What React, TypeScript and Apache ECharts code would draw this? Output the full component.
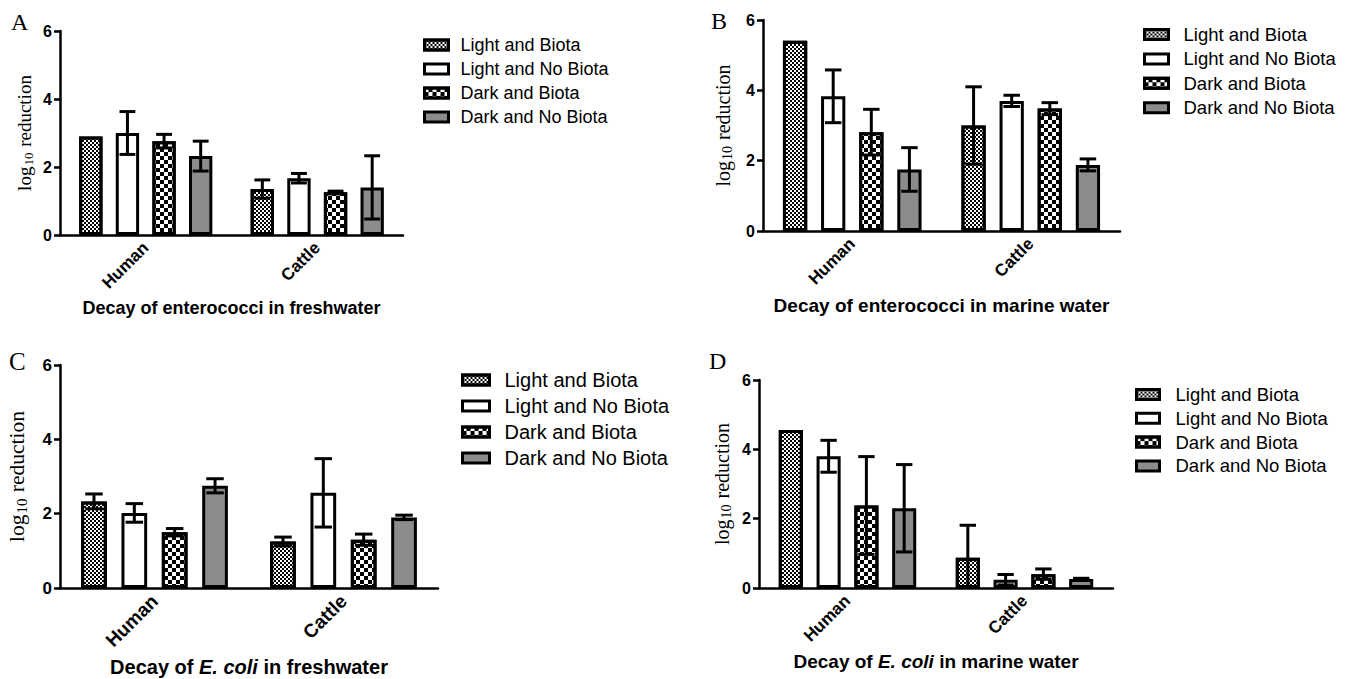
import React, { useEffect, useRef } from 'react';
import * as echarts from 'echarts';

const categories = ['Human', 'Cattle'];
const groupNames = ['Light and Biota', 'Light and No Biota', 'Dark and Biota', 'Dark and No Biota'];

// [series][category] : Human, Cattle
const enteroFreshMean = [[2.9, 1.35], [3.0, 1.67], [2.76, 1.26], [2.32, 1.4]];
const enteroFreshErr = [[0, 0.27], [0.63, 0.14], [0.2, 0.03], [0.44, 0.93]];

const enteroMarineMean = [[5.41, 3.0], [3.83, 3.7], [2.81, 3.48], [1.75, 1.88]];
const enteroMarineErr = [[0, 1.1], [0.75, 0.16], [0.65, 0.17], [0.62, 0.17]];

const ecoliFreshMean = [[2.33, 1.25], [2.02, 2.56], [1.5, 1.3], [2.75, 1.9]];
const ecoliFreshErr = [[0.2, 0.12], [0.25, 0.92], [0.1, 0.15], [0.19, 0.06]];

const ecoliMarineMean = [[4.56, 0.87], [3.8, 0.24], [2.38, 0.4], [2.3, 0.26]];
const ecoliMarineErr = [[0, 0.94], [0.46, 0.15], [1.41, 0.15], [1.26, 0.02]];

const BAR_W = 0.136;
const BAR_GAP = 0.57;

const SANS = '"Liberation Sans", Arial, sans-serif';
const SERIF = '"Liberation Serif", "Times New Roman", serif';

const fineDecal = {
  symbol: 'rect',
  symbolSize: 1,
  color: '#000',
  backgroundColor: '#fff',
  dashArrayX: [[2, 2], [0, 2, 2, 0]],
  dashArrayY: [2, 0],
};
const coarseDecal = {
  symbol: 'rect',
  symbolSize: 1,
  color: '#000',
  backgroundColor: '#fff',
  dashArrayX: [[4, 4], [0, 4, 4, 0]],
  dashArrayY: [4, 0],
};

const seriesStyles: any[] = [
  { color: '#fff', decal: fineDecal },
  { color: '#fff' },
  { color: '#fff', decal: coarseDecal },
  { color: '#8c8c8c' },
];

const panels = [
  {
    letter: 'A', mean: enteroFreshMean, err: enteroFreshErr,
    title: '{b|Decay of enterococci in freshwater}',
    grid: { left: 60, top: 31, width: 343, height: 204 },
    letterPos: [11, 22, 24],
    titleSize: 18, nameGap: 64, yNameSize: 19, yNameGap: 25, catSize: 17, tickSize: 16,
    legend: { left: 418, top: 31, gap: 6, font: 18, pad: 7, iw: 24, ih: 10 },
  },
  {
    letter: 'B', mean: enteroMarineMean, err: enteroMarineErr,
    title: '{b|Decay of enterococci in marine water}',
    grid: { left: 763, top: 20, width: 357, height: 211 },
    letterPos: [711, 21, 24],
    titleSize: 19, nameGap: 65, yNameSize: 20, yNameGap: 29, catSize: 17, tickSize: 16,
    legend: { left: 1138, top: 20, gap: 5.4, font: 18.5, pad: 10, iw: 24, ih: 10 },
  },
  {
    letter: 'C', mean: ecoliFreshMean, err: ecoliFreshErr,
    title: '{b|Decay of }{i|E. coli}{b| in freshwater}',
    grid: { left: 60, top: 365, width: 378, height: 223 },
    letterPos: [9, 361, 25],
    titleSize: 20, nameGap: 69, yNameSize: 21.5, yNameGap: 31, catSize: 19, tickSize: 17,
    legend: { left: 456, top: 365, gap: 6, font: 20, pad: 10, iw: 27, ih: 10 },
  },
  {
    letter: 'D', mean: ecoliMarineMean, err: ecoliMarineErr,
    title: '{b|Decay of }{i|E. coli}{b| in marine water}',
    grid: { left: 759, top: 380, width: 354, height: 208 },
    letterPos: [709, 361, 24],
    titleSize: 19, nameGap: 64, yNameSize: 20, yNameGap: 26, catSize: 17, tickSize: 16,
    legend: { left: 1130, top: 380, gap: 4.8, font: 18.5, pad: 11, iw: 23, ih: 10 },
  },
];

function buildOption() {
  const grid: any[] = [];
  const xAxis: any[] = [];
  const yAxis: any[] = [];
  const series: any[] = [];
  const legend: any[] = [];
  const graphic: any[] = [];

  panels.forEach((p, pi) => {
    grid.push({ ...p.grid, containLabel: false });
    xAxis.push({
      type: 'category',
      gridIndex: pi,
      data: categories,
      axisLine: { lineStyle: { color: '#000', width: 2.5 } },
      axisTick: { alignWithLabel: true, length: 6, lineStyle: { color: '#000', width: 2.5 } },
      axisLabel: {
        rotate: 45, margin: 10, color: '#000', fontWeight: 'bold',
        fontFamily: SANS, fontSize: p.catSize,
      },
      name: p.title,
      nameLocation: 'middle',
      nameGap: p.nameGap,
      nameTextStyle: {
        color: '#000',
        rich: {
          b: { fontFamily: SANS, fontWeight: 'bold', fontSize: p.titleSize, color: '#000' },
          i: { fontFamily: SANS, fontWeight: 'bold', fontStyle: 'italic', fontSize: p.titleSize, color: '#000' },
        },
      },
    });
    yAxis.push({
      type: 'value',
      gridIndex: pi,
      min: 0,
      max: 6,
      interval: 2,
      splitLine: { show: false },
      axisLine: { show: true, lineStyle: { color: '#000', width: 2.5 } },
      axisTick: { show: true, length: 6, lineStyle: { color: '#000', width: 2.5 } },
      axisLabel: {
        color: '#000', fontWeight: 'bold', fontFamily: SANS, fontSize: p.tickSize, margin: 8,
      },
      name: '{a|log}{s|10}{a| reduction}',
      nameLocation: 'middle',
      nameGap: p.yNameGap,
      nameTextStyle: {
        color: '#000',
        rich: {
          a: { fontFamily: SERIF, fontSize: p.yNameSize, color: '#000' },
          s: {
            fontFamily: SERIF, fontSize: Math.round(p.yNameSize * 0.68), color: '#000',
            verticalAlign: 'bottom', padding: [Math.round(p.yNameSize * 0.45), 1, 0, 1],
          },
        },
      },
    });

    groupNames.forEach((name, si) => {
      series.push({
        type: 'bar',
        name,
        xAxisIndex: pi,
        yAxisIndex: pi,
        data: p.mean[si],
        barWidth: (BAR_W * 100).toFixed(1) + '%',
        barGap: (BAR_GAP * 100).toFixed(0) + '%',
        itemStyle: {
          ...seriesStyles[si],
          borderColor: '#000',
          borderWidth: 3,
        },
        z: 2,
      });
    });

    groupNames.forEach((name, si) => {
      const data = categories.map((c, ci) => [ci, p.mean[si][ci], p.err[si][ci]]);
      series.push({
        type: 'custom',
        name: 'err-' + p.letter + '-' + si,
        xAxisIndex: pi,
        yAxisIndex: pi,
        z: 5,
        data,
        encode: { x: 0, y: 1 },
        renderItem: (params: any, api: any) => {
          const ci = params.dataIndex;
          const m = api.value(1);
          const e = api.value(2);
          if (!e) return { type: 'group', children: [] };
          const band = api.size([1, 0])[0];
          const bw = band * BAR_W;
          const total = 4 * bw + 3 * BAR_GAP * bw;
          const cx = api.coord([ci, m])[0] - total / 2 + si * (bw + BAR_GAP * bw) + bw / 2;
          const lo = Math.max(0, m - e);
          const yTop = api.coord([ci, m + e])[1];
          const yBot = api.coord([ci, lo])[1];
          const cap = bw * 0.34;
          const st = { stroke: '#000', lineWidth: 3 };
          const children: any[] = [
            { type: 'line', shape: { x1: cx, y1: yTop, x2: cx, y2: yBot }, style: st },
            { type: 'line', shape: { x1: cx - cap, y1: yTop, x2: cx + cap, y2: yTop }, style: st },
          ];
          if (m - e > 0) {
            children.push({ type: 'line', shape: { x1: cx - cap, y1: yBot, x2: cx + cap, y2: yBot }, style: st });
          }
          return { type: 'group', children };
        },
      });
    });

    legend.push({
      orient: 'vertical',
      left: p.legend.left,
      top: p.legend.top,
      itemGap: p.legend.gap,
      itemWidth: p.legend.iw,
      itemHeight: p.legend.ih,
      icon: 'rect',
      selectedMode: false,
      data: groupNames,
      itemStyle: { borderColor: '#000', borderWidth: 3 },
      textStyle: {
        color: '#000', fontFamily: SANS, fontSize: p.legend.font,
        padding: [0, 0, 0, p.legend.pad],
      },
    });

    graphic.push({
      type: 'text',
      x: p.letterPos[0],
      y: p.letterPos[1],
      style: {
        text: p.letter,
        fontFamily: SERIF,
        fontSize: p.letterPos[2],
        fill: '#000',
        verticalAlign: 'middle',
      },
    });
  });

  return {
    animation: false,
    backgroundColor: '#fff',
    grid,
    xAxis,
    yAxis,
    series,
    legend,
    graphic,
  };
}

export default function App() {
  const ref = useRef<HTMLDivElement>(null);
  useEffect(() => {
    if (!ref.current) return;
    const chart = echarts.init(ref.current, null, { renderer: 'svg' });
    chart.setOption(buildOption() as any);
    return () => chart.dispose();
  }, []);
  return (
    <div
      ref={ref}
      style={{ position: 'absolute', left: 0, top: 0, width: 1351, height: 679, background: '#fff' }}
    />
  );
}
